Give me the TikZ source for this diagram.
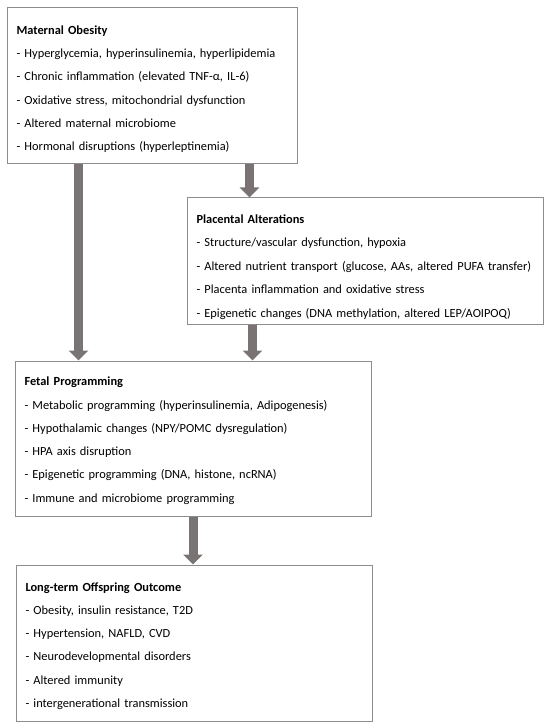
\documentclass[tikz,border=0pt]{standalone}
\usepackage{fontspec}
\setmainfont{Carlito}
\usepackage{tikz}
\usetikzlibrary{positioning,calc,arrows.meta}

\definecolor{boxline}{RGB}{140,140,140}
\definecolor{arrowgray}{RGB}{122,115,115}

% title line with a strut of given height, last line with a strut of given depth
\newcommand{\stagetitle}[2]{\rule{0pt}{#1}\textbf{#2}}
\newcommand{\lastitem}[2]{\rule[-#1]{0pt}{#1}#2}

\tikzset{
  stagebox/.style={draw=boxline, line width=1pt, fill=white, align=left, inner xsep=9.5pt, inner ysep=0pt,
    font=\fontsize{12.4}{23.3}\selectfont, anchor=center},
  flowarrow/.style={draw=arrowgray, line width=9pt, -{Triangle[width=19pt,length=10pt]}, arrowgray}
}

\begin{document}
\begin{tikzpicture}[x=1pt,y=-1pt]
\useasboundingbox (0,0) rectangle (550,727);
\node[stagebox, text width=271pt, minimum width=290pt, minimum height=156pt] (mo) at (152,86)
  {\stagetitle{18pt}{Maternal Obesity}\\
   - Hyperglycemia, hyperinsulinemia, hyperlipidemia\\
   - Chronic inflammation (elevated TNF-α, IL-6)\\
   - Oxidative stress, mitochondrial dysfunction\\
   - Altered maternal microbiome\\
   \lastitem{5pt}{- Hormonal disruptions (hyperleptinemia)}};
\node[stagebox, text width=337pt, minimum width=356pt, minimum height=126pt,
  font=\fontsize{12.4}{23.5}\selectfont] (pa) at (365,261)
  {\stagetitle{22pt}{Placental Alterations}\\
   - Structure/vascular dysfunction, hypoxia\\
   - Altered nutrient transport (glucose, AAs, altered PUFA transfer)\\
   - Placenta inflammation and oxidative stress\\
   \lastitem{4pt}{- Epigenetic changes (DNA methylation, altered LEP/AOIPOQ)}};
\node[stagebox, text width=337pt, minimum width=356pt, minimum height=155pt] (fp) at (193,438.5)
  {\stagetitle{16pt}{Fetal Programming}\\
   - Metabolic programming (hyperinsulinemia, Adipogenesis)\\
   - Hypothalamic changes (NPY/POMC dysregulation)\\
   - HPA axis disruption\\
   - Epigenetic programming (DNA, histone, ncRNA)\\
   \lastitem{5pt}{- Immune and microbiome programming}};
\node[stagebox, text width=337pt, minimum width=356pt, minimum height=156pt] (lo) at (194,643)
  {\stagetitle{17.5pt}{Long-term Offspring Outcome}\\
   - Obesity, insulin resistance, T2D\\
   - Hypertension, NAFLD, CVD\\
   - Neurodevelopmental disorders\\
   - Altered immunity\\
   \lastitem{5pt}{- intergenerational transmission}};
\draw[flowarrow] ([xshift=72pt]mo.south west) -- ([xshift=72pt]mo.south west |- fp.north);
\draw[flowarrow] ([xshift=243pt]mo.south west) -- ([xshift=243pt]mo.south west |- pa.north);
\draw[flowarrow] ([xshift=66pt]pa.south west) -- ([xshift=66pt]pa.south west |- fp.north);
\draw[flowarrow] (fp.south) -- (fp.south |- lo.north);
\end{tikzpicture}
\end{document}
